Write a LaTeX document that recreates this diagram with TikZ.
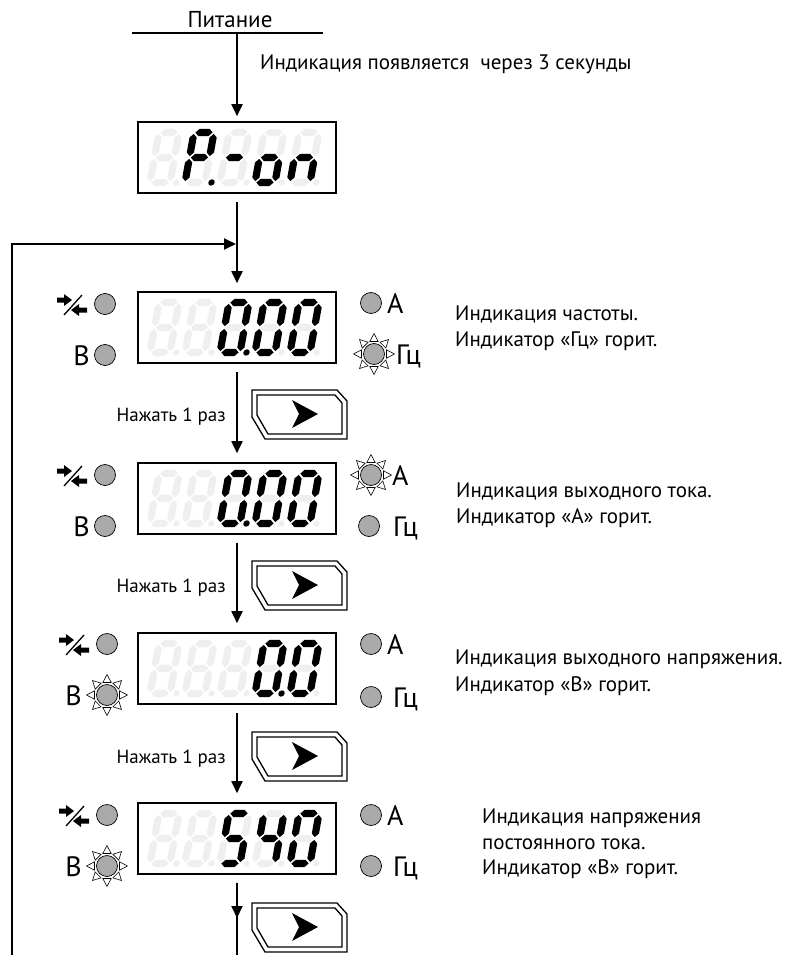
\documentclass[tikz,border=0pt]{standalone}
\usepackage{fontspec}
\setmainfont{PT Sans}
\usetikzlibrary{arrows.meta,calc}
\definecolor{ghost}{HTML}{EFEFEF}
\definecolor{ledgray}{HTML}{AAAAAA}

\newcommand\hsg[1]{\fill (1.4,#1) -- (5,{#1+3.6}) -- (15,{#1+3.6}) -- (18.6,#1) -- (15,{#1-3.6}) -- (5,{#1-3.6}) -- cycle;}
\newcommand\vsg[3]{\fill (#1,{#2+1.4}) -- ({#1+3.6},{#2+5}) -- ({#1+3.6},{#3-5}) -- (#1,{#3-1.4}) -- ({#1-3.6},{#3-5}) -- ({#1-3.6},{#2+5}) -- cycle;}
\newcommand\sgA{\hsg{50}}
\newcommand\sgB{\vsg{20}{25}{50}}
\newcommand\sgC{\vsg{20}{0}{25}}
\newcommand\sgD{\hsg{0}}
\newcommand\sgE{\vsg{0}{0}{25}}
\newcommand\sgF{\vsg{0}{25}{50}}
\newcommand\sgG{\hsg{25}}
\newcommand\sgP{\fill (26.5,0) circle (3.2pt);}
% digit: x, baseline y (px), lit segments
\newcommand\dgt[3]{%
  \begin{scope}[shift={(#1,#2)}, xslant=0.18, yscale=-1]
    \begin{scope}[fill=ghost]\sgA\sgB\sgC\sgD\sgE\sgF\sgG\sgP\end{scope}
    \begin{scope}[fill=black]\foreach \s in {#3}{\csname sg\s\endcsname}\end{scope}
  \end{scope}}
\newcommand\sunrays[1]{\foreach \a in {0,45,...,315}{\draw[fill=white, line width=0.6pt, shift={(#1)}, rotate=\a] (12.5pt,4.2pt) -- (20.5pt,0pt) -- (12.5pt,-4.2pt) -- cycle;}}
\newcommand\swp[1]{\begin{scope}[shift={(#1)}]
  \fill (-48,-6.5) -- (-41,-6.5) -- (-41,-10) -- (-33,-4) -- (-41,2) -- (-41,-1.5) -- (-48,-1.5) -- cycle;
  \fill (-18,3.5) -- (-26,3.5) -- (-26,0) -- (-34,6) -- (-26,12) -- (-26,8.5) -- (-18,8.5) -- cycle;
  \draw[line width=1.3pt] (-23,-9) -- (-41,11);
  \end{scope}}
\newcommand\btn[1]{\begin{scope}[shift={(0,#1)}]
  \draw[line width=1.3pt] (252,0) -- (337,0) -- (347,11) -- (347,49) -- (265,49) -- (252,27) -- cycle;
  \draw[line width=1.3pt] (257,5) -- (335,5) -- (342,13) -- (342,44) -- (268,44) -- (257,25) -- cycle;
  \fill (292,10) -- (318,24) -- (292,38) -- (299,24) -- cycle;
  \end{scope}}

\begin{document}
\begin{tikzpicture}[x=1pt,y=-1pt,
  arr/.style={line width=1.8pt, -{Triangle[length=12pt,width=11pt]}},
  plain/.style={line width=1.8pt},
  dispbox/.style={draw, line width=1.6pt, minimum width=198pt, minimum height=71pt, inner sep=0pt},
  led/.style={circle, draw, line width=0.7pt, fill=ledgray, minimum size=21pt, inner sep=0pt},
  lbl/.style={font=\fontsize{28}{30}\selectfont, inner sep=0pt},
  desc/.style={font=\fontsize{21}{24}\selectfont, anchor=base west, inner sep=0pt},
  press/.style={font=\fontsize{19}{22}\selectfont, anchor=base east, inner sep=0pt}]
\useasboundingbox (0,0) rectangle (788,955);
\fill[white] (0,0) rectangle (788,955);

% power
\coordinate (pwl) at (132,33); \coordinate (pwr) at (323,33);
\draw[plain] (pwl) -- (pwr);
\node[font=\fontsize{23}{26}\selectfont, anchor=base, inner sep=0pt] (pwt) at (230,28) {Питание};
\node[font=\fontsize{21}{24}\selectfont, anchor=base west, inner sep=0pt] (note) at (260,70) {Индикация появляется~ через 3 секунды};

% displays
\node[dispbox] (d1) at (237,157.5) {};
\node[dispbox] (d2) at (237,327.5) {};
\node[dispbox] (d3) at (237,498.5) {};
\node[dispbox] (d4) at (237,668.5) {};
\node[dispbox] (d5) at (237,838.5) {};

% connectors
\coordinate (pwa) at (237,33);
\draw[arr, shorten >=5pt] (pwa) -- (d1.north);
\draw[arr, shorten <=8pt, shorten >=8pt] (d1.south) -- (d2.north);
\coordinate (fbb) at (12,955); \coordinate (fbj) at (236,244);
\draw[arr] (fbb) |- (fbj);
\draw[arr, shorten <=8pt, shorten >=9pt] (d2.south) -- (d3.north);
\draw[arr, shorten <=8pt, shorten >=9pt] (d3.south) -- (d4.north);
\draw[arr, shorten <=8pt, shorten >=9pt] (d4.south) -- (d5.north);
\coordinate (bend) at (237,955); \coordinate (bmid) at (237,918);
\draw[plain, shorten <=8pt] (d5.south) -- (bend);
\draw[arr, shorten <=8pt] (d5.south) -- (bmid);

% buttons
\btn{390}\btn{561}\btn{732}\btn{903}
\node[press] (p2) at (226,421) {Нажать 1 раз};
\node[press] (p3) at (226,592) {Нажать 1 раз};
\node[press] (p4) at (226,763) {Нажать 1 раз};

% digits P-on
\dgt{150}{182.5}{}
\dgt{185}{182.5}{A,B,E,F,G,P}
\dgt{220}{182.5}{G}
\dgt{255}{182.5}{C,D,E,G}
\dgt{290}{182.5}{C,E,G}
% 0.00 (freq)
\dgt{150}{352.5}{}
\dgt{185}{352.5}{}
\dgt{220}{352.5}{A,B,C,D,E,F,P}
\dgt{255}{352.5}{A,B,C,D,E,F}
\dgt{290}{352.5}{A,B,C,D,E,F}
% 0.00 (current)
\dgt{150}{523.5}{}
\dgt{185}{523.5}{}
\dgt{220}{523.5}{A,B,C,D,E,F,P}
\dgt{255}{523.5}{A,B,C,D,E,F}
\dgt{290}{523.5}{A,B,C,D,E,F}
% 0.0 (voltage)
\dgt{150}{693.5}{}
\dgt{185}{693.5}{}
\dgt{220}{693.5}{}
\dgt{255}{693.5}{A,B,C,D,E,F,P}
\dgt{290}{693.5}{A,B,C,D,E,F}
% 540
\dgt{150}{863.5}{}
\dgt{185}{863.5}{}
\dgt{220}{863.5}{A,F,G,C,D}
\dgt{255}{863.5}{F,G,B,C}
\dgt{290}{863.5}{A,B,C,D,E,F}

% row 2 indicators
\node[led] (l2s) at (105,304) {}; \swp{l2s}
\node[led] (l2v) at (105,355) {};
\node[lbl, anchor=base east] (t2v) at (90,365) {В};
\node[led] (l2a) at (371,303) {};
\node[lbl, anchor=base west] (t2a) at (387,313) {А};
\sunrays{374,354}
\node[led] (l2h) at (374,354) {};
\node[lbl, anchor=base west] (t2h) at (396,364) {Гц};
\node[desc] (x2a) at (455,320) {Индикация частоты.};
\node[desc] (x2b) at (455,346) {Индикатор «Гц» горит.};

% row 3
\node[led] (l3s) at (105,475) {}; \swp{l3s}
\node[led] (l3v) at (105,526) {};
\node[lbl, anchor=base east] (t3v) at (90,536) {В};
\sunrays{371,475}
\node[led] (l3a) at (371,475) {};
\node[lbl, anchor=base west] (t3a) at (392,485) {А};
\node[led] (l3h) at (369,526) {};
\node[lbl, anchor=base west] (t3h) at (393,536) {Гц};
\node[desc] (x3a) at (456,497) {Индикация выходного тока.};
\node[desc] (x3b) at (456,523) {Индикатор «А» горит.};

% row 4
\node[led] (l4s) at (107,644) {}; \swp{l4s}
\sunrays{107,695}
\node[led] (l4v) at (107,695) {};
\node[lbl, anchor=base east] (t4v) at (82,705) {В};
\node[led] (l4a) at (371,644) {};
\node[lbl, anchor=base west] (t4a) at (387,654) {А};
\node[led] (l4h) at (371,697) {};
\node[lbl, anchor=base west] (t4h) at (393,707) {Гц};
\node[desc] (x4a) at (455,664) {Индикация выходного напряжения.};
\node[desc] (x4b) at (455,691) {Индикатор «В» горит.};

% row 5
\node[led] (l5s) at (107,815) {}; \swp{l5s}
\sunrays{107,866}
\node[led] (l5v) at (107,866) {};
\node[lbl, anchor=base east] (t5v) at (82,876) {В};
\node[led] (l5a) at (371,815) {};
\node[lbl, anchor=base west] (t5a) at (387,825) {А};
\node[led] (l5h) at (371,866) {};
\node[lbl, anchor=base west] (t5h) at (393,876) {Гц};
\node[desc] (x5a) at (482,823) {Индикация напряжения};
\node[desc] (x5b) at (482,849) {постоянного тока.};
\node[desc] (x5c) at (482,874) {Индикатор «В» горит.};
\end{tikzpicture}
\end{document}
